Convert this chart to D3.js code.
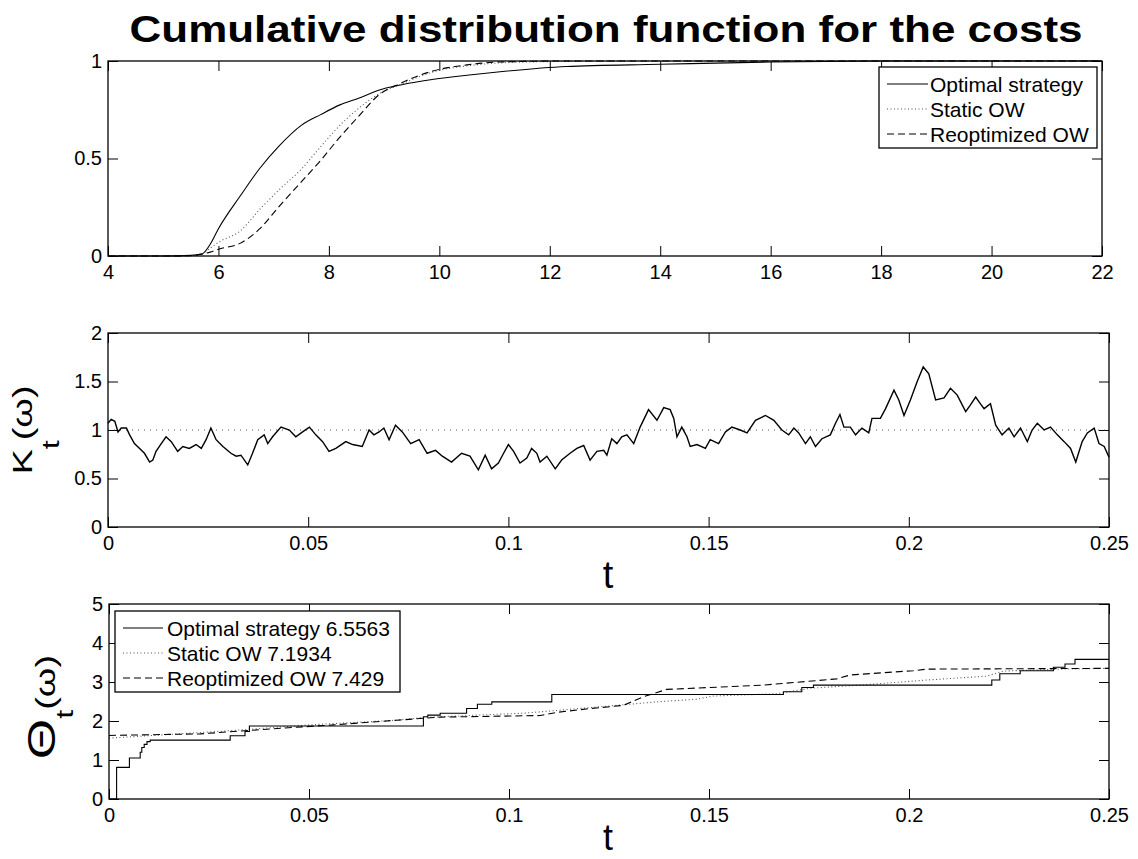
<!DOCTYPE html>
<html>
<head>
<meta charset="utf-8">
<script src="https://cdn.jsdelivr.net/npm/d3@7"></script>
<style>
  body { margin: 0; background: #fff; }
  text { font-family: "Liberation Sans", Arial, Helvetica, sans-serif; fill: #000; }
</style>
</head>
<body>
<svg id="chart" width="1138" height="859"></svg>
<script>
// ---- top panel: CDF of the costs
const costGrid   = [4, 5, 5.5, 5.7, 5.85, 6.0, 6.4, 6.75, 7.1, 7.5, 7.85, 8.2, 8.55, 8.9, 9.3, 9.9, 10.5, 11.1, 12.3, 14, 16, 18, 22];
const cdfOptimal = [0, 0, 0.003, 0.01, 0.06, 0.14, 0.31, 0.45, 0.565, 0.67, 0.725, 0.775, 0.81, 0.85, 0.877, 0.906, 0.927, 0.945, 0.972, 0.983, 0.995, 1, 1];
const cdfStatic  = [0, 0, 0.002, 0.01, 0.04, 0.07, 0.13, 0.24, 0.34, 0.445, 0.56, 0.67, 0.76, 0.83, 0.88, 0.945, 0.975, 0.99, 0.998, 1, 1, 1, 1];
const cdfReopt   = [0, 0, 0.002, 0.01, 0.02, 0.035, 0.066, 0.14, 0.255, 0.38, 0.49, 0.61, 0.72, 0.825, 0.886, 0.95, 0.98, 0.995, 1, 1, 1, 1, 1];
const costTicks  = [4, 6, 8, 10, 12, 14, 16, 18, 20, 22];
const cdfTicks   = [0, 0.5, 1];

// ---- middle panel: K_t(omega)
const kTimes = [
  0, 0.0008, 0.0017, 0.0025, 0.0033, 0.0046, 0.0054, 0.0066, 0.0079, 0.0091,
  0.0104, 0.0112, 0.0120, 0.0133, 0.0145, 0.0158, 0.0174, 0.0187, 0.0203, 0.0220,
  0.0233, 0.0245, 0.0257, 0.0270, 0.0287, 0.0307, 0.0320, 0.0332, 0.0349, 0.0361,
  0.0374, 0.0390, 0.0399, 0.0411, 0.0432, 0.0453, 0.0469, 0.0486, 0.0503, 0.0519,
  0.0536, 0.0552, 0.0569, 0.0594, 0.0611, 0.0635, 0.0652, 0.0664, 0.0677, 0.0689,
  0.0702, 0.0718, 0.0735, 0.0756, 0.0777, 0.0797, 0.0818, 0.0835,
  0.0858, 0.0883, 0.0904, 0.0925, 0.0942, 0.0958, 0.0975, 0.0988, 0.1000, 0.1013,
  0.1029, 0.1046, 0.1058, 0.1071, 0.1079, 0.1096, 0.1117, 0.1133, 0.1154, 0.1171,
  0.1188, 0.1204, 0.1221, 0.1238, 0.1246, 0.1258, 0.1271, 0.1283, 0.1296, 0.1313,
  0.1329, 0.1350, 0.1371, 0.1388, 0.1404, 0.1413, 0.1421, 0.1433, 0.1446, 0.1454,
  0.1471, 0.1492, 0.1504, 0.1525, 0.1542, 0.1558, 0.1579, 0.1596, 0.1617, 0.1642,
  0.1663, 0.1683, 0.1700,
  0.1713, 0.1725, 0.1742, 0.1754, 0.1767, 0.1783, 0.1804, 0.1817, 0.1828, 0.1838,
  0.1854, 0.1867, 0.1883, 0.1900, 0.1908, 0.1929, 0.1942, 0.1963, 0.1975, 0.1988,
  0.2004, 0.2021, 0.2036, 0.2050, 0.2067, 0.2088, 0.2104, 0.2121, 0.2142, 0.2154,
  0.2167, 0.2179, 0.2188, 0.2204, 0.2217, 0.2233, 0.2250, 0.2263, 0.2279, 0.2296,
  0.2308, 0.2321, 0.2338, 0.2354, 0.2371, 0.2388, 0.2404, 0.2417, 0.2433, 0.2446,
  0.2463, 0.2475, 0.2488, 0.2500
];
const kValues = [
  1.07, 1.11, 1.09, 0.98, 1.02, 1.02, 0.95, 0.86, 0.81, 0.76,
  0.67, 0.69, 0.78, 0.86, 0.93, 0.88, 0.78, 0.83, 0.81, 0.85,
  0.81, 0.90, 1.02, 0.90, 0.83, 0.76, 0.73, 0.74, 0.64, 0.76,
  0.90, 0.95, 0.86, 0.93, 1.03, 1.00, 0.93, 0.98, 1.03, 0.95,
  0.88, 0.78, 0.81, 0.88, 0.85, 0.83, 1.00, 0.95, 0.98, 1.02,
  0.90, 1.05, 0.98, 0.86, 0.90, 0.76, 0.79, 0.73,
  0.67, 0.76, 0.73, 0.59, 0.74, 0.60, 0.66, 0.76, 0.85, 0.78,
  0.66, 0.71, 0.81, 0.76, 0.67, 0.73, 0.60, 0.69, 0.76, 0.81,
  0.84, 0.69, 0.78, 0.79, 0.74, 0.91, 0.86, 0.93, 0.95, 0.86,
  1.03, 1.21, 1.10, 1.23, 1.21, 1.12, 0.93, 1.03, 0.93, 0.83,
  0.85, 0.81, 0.90, 0.86, 0.98, 1.03, 1.00, 0.97, 1.10, 1.15,
  1.10, 1.00, 0.95,
  1.02, 0.97, 0.86, 0.93, 0.83, 0.91, 0.95, 1.07, 1.16, 1.03,
  1.03, 0.95, 1.02, 0.97, 1.12, 1.12, 1.22, 1.41, 1.31, 1.15,
  1.31, 1.50, 1.65, 1.58, 1.31, 1.33, 1.43, 1.36, 1.19, 1.26,
  1.34, 1.27, 1.22, 1.27, 1.05, 0.95, 1.02, 0.93, 1.02, 0.88,
  1.00, 1.07, 1.00, 1.03, 0.95, 0.88, 0.81, 0.67, 0.88, 0.97,
  1.02, 0.86, 0.83, 0.72
];
const kReference = 1;
const kTicks = [0, 0.5, 1, 1.5, 2];
const timeTicks = [0, 0.05, 0.1, 0.15, 0.2, 0.25];

// ---- bottom panel: Theta_t(omega)
const thetaOptT = [0, 0.0019, 0.0051, 0.0078, 0.0082, 0.0088, 0.0095, 0.0103, 0.0303, 0.0340, 0.0351, 0.0786, 0.0797, 0.0828, 0.0894, 0.0921, 0.0957, 0.1107, 0.1686, 0.1732, 0.1761, 0.2207, 0.2227, 0.2278, 0.2361, 0.2390, 0.2415, 0.25];
const thetaOptV = [0, 0.81, 1.05, 1.20, 1.32, 1.40, 1.47, 1.51, 1.62, 1.73, 1.87, 2.11, 2.15, 2.20, 2.32, 2.43, 2.49, 2.68, 2.75, 2.86, 2.92, 3.05, 3.21, 3.29, 3.38, 3.46, 3.58, 3.58];
const thetaStaticT = [0, 0.0094, 0.0300, 0.0500, 0.0719, 0.0786, 0.0920, 0.1036, 0.1119, 0.1278, 0.1369, 0.1469, 0.1511, 0.1669, 0.1753, 0.1878, 0.2044, 0.2194, 0.2236, 0.2378, 0.25];
const thetaStaticV = [1.56, 1.62, 1.75, 1.90, 2.02, 2.09, 2.15, 2.20, 2.27, 2.41, 2.49, 2.56, 2.64, 2.70, 2.84, 2.92, 3.05, 3.15, 3.28, 3.33, 3.35];
const thetaReoptT = [0, 0.0228, 0.0394, 0.0561, 0.0719, 0.0828, 0.1078, 0.1119, 0.1203, 0.1286, 0.1336, 0.1394, 0.1636, 0.1819, 0.1853, 0.2011, 0.2044, 0.25];
const thetaReoptV = [1.63, 1.67, 1.79, 1.90, 2.02, 2.10, 2.14, 2.22, 2.32, 2.40, 2.62, 2.81, 2.92, 3.08, 3.18, 3.29, 3.33, 3.35];
const thetaTicks = [0, 1, 2, 3, 4, 5];

const topLegend = ["Optimal strategy", "Static OW", "Reoptimized OW"];
const bottomLegend = ["Optimal strategy 6.5563", "Static OW 7.1934", "Reoptimized OW 7.429"];

const styles = [
  { dash: null, color: "#000" },
  { dash: "1,2.5", color: "#555" },
  { dash: "7,4", color: "#000" }
];

const svg = d3.select("#chart");
const fmt = d3.format("~g");

function makePanel(box, xDomain, yDomain, xTicks, yTicks) {
  const g = svg.append("g");
  const x = d3.scaleLinear().domain(xDomain).range([box.left, box.right]);
  const y = d3.scaleLinear().domain(yDomain).range([box.bottom, box.top]);

  const axes = [
    [d3.axisBottom(x).tickValues(xTicks).tickFormat(fmt).tickPadding(9), `translate(0,${box.bottom})`],
    [d3.axisTop(x).tickValues(xTicks).tickFormat(""), `translate(0,${box.top})`],
    [d3.axisLeft(y).tickValues(yTicks).tickFormat(fmt).tickPadding(6), `translate(${box.left},0)`],
    [d3.axisRight(y).tickValues(yTicks).tickFormat(""), `translate(${box.right},0)`]
  ];
  axes.forEach(([ax, tr]) => {
    const a = g.append("g").attr("transform", tr)
      .call(ax.tickSizeInner(-10).tickSizeOuter(0));
    a.select(".domain").remove();
    a.selectAll("line").attr("stroke", "#000");
    a.selectAll("text").attr("font-size", 20).attr("font-family", "Liberation Sans, Arial, sans-serif").attr("fill", "#000");
  });

  const plot = g.append("g");
  g.append("rect")
    .attr("x", box.left).attr("y", box.top)
    .attr("width", box.right - box.left).attr("height", box.bottom - box.top)
    .attr("fill", "none").attr("stroke", "#000").attr("stroke-width", 1.3);

  return { g, plot, x, y };
}

function drawSeries(panel, xs, ys, style, curve = d3.curveLinear, width = 1.1) {
  const line = d3.line().x((d, i) => panel.x(xs[i])).y(d => panel.y(d)).curve(curve);
  panel.plot.append("path")
    .datum(ys)
    .attr("d", line)
    .attr("fill", "none")
    .attr("stroke", style.color)
    .attr("stroke-width", width)
    .attr("stroke-dasharray", style.dash);
}

function drawLegend(box, labels, rowGap, lineX0, lineX1, textX) {
  const lg = svg.append("g");
  lg.append("rect")
    .attr("x", box.x).attr("y", box.y).attr("width", box.w).attr("height", box.h)
    .attr("fill", "#fff").attr("stroke", "#000").attr("stroke-width", 1.3);
  labels.forEach((lab, i) => {
    const cy = box.y + 17 + i * rowGap;
    lg.append("line")
      .attr("x1", lineX0).attr("x2", lineX1).attr("y1", cy).attr("y2", cy)
      .attr("stroke", styles[i].color).attr("stroke-width", 1.1)
      .attr("stroke-dasharray", styles[i].dash);
    lg.append("text").attr("x", textX).attr("y", cy + 7.5)
      .attr("font-size", 21).text(lab);
  });
}

// title
svg.append("text")
  .attr("x", 606).attr("y", 42)
  .attr("text-anchor", "middle")
  .attr("font-size", 37).attr("font-weight", "bold")
  .attr("textLength", 953).attr("lengthAdjust", "spacingAndGlyphs")
  .text("Cumulative distribution function for the costs");

// top panel
const cdfPanel = makePanel({ left: 108, right: 1102, top: 61, bottom: 256 }, [4, 22], [0, 1], costTicks, cdfTicks);
drawSeries(cdfPanel, costGrid, cdfOptimal, styles[0], d3.curveMonotoneX);
drawSeries(cdfPanel, costGrid, cdfStatic, styles[1], d3.curveMonotoneX);
drawSeries(cdfPanel, costGrid, cdfReopt, styles[2], d3.curveMonotoneX);
drawLegend({ x: 879, y: 67, w: 218, h: 81 }, topLegend, 25, 887, 928, 930);

// middle panel
const kPanel = makePanel({ left: 108, right: 1109, top: 333, bottom: 527 }, [0, 0.25], [0, 2], timeTicks, kTicks);
drawSeries(kPanel, [0, 0.25], [kReference, kReference], { dash: "1,5", color: "#555" });
drawSeries(kPanel, kTimes, kValues, { dash: null, color: "#000" }, d3.curveLinear, 1.4);

// bottom panel
const thetaPanel = makePanel({ left: 109, right: 1109, top: 604, bottom: 799 }, [0, 0.25], [0, 5], timeTicks, thetaTicks);
drawSeries(thetaPanel, thetaStaticT, thetaStaticV, styles[1]);
drawSeries(thetaPanel, thetaReoptT, thetaReoptV, styles[2]);
drawSeries(thetaPanel, thetaOptT, thetaOptV, styles[0], d3.curveStepAfter);
drawLegend({ x: 115, y: 611, w: 285, h: 81 }, bottomLegend, 25, 123, 163, 167);

// axis labels
function yLabel(cx, cy, main, mainSize, subShift) {
  const t = svg.append("text")
    .attr("transform", `translate(${cx},${cy}) rotate(-90) scale(1,0.75)`)
    .attr("text-anchor", "middle")
    .attr("font-size", 38);
  t.append("tspan").attr("font-size", mainSize).text(main);
  t.append("tspan").attr("font-size", 32).attr("dy", subShift).text("t");
  t.append("tspan").attr("dy", -subShift).text("(ω)");
}
yLabel(32, 430, "K", 38, 36);
yLabel(55, 707, "Θ", 52, 24);

svg.append("text").attr("x", 608).attr("y", 588)
  .attr("text-anchor", "middle").attr("font-size", 38).text("t");
svg.append("text").attr("x", 608).attr("y", 850)
  .attr("text-anchor", "middle").attr("font-size", 36).text("t");
</script>
</body>
</html>
